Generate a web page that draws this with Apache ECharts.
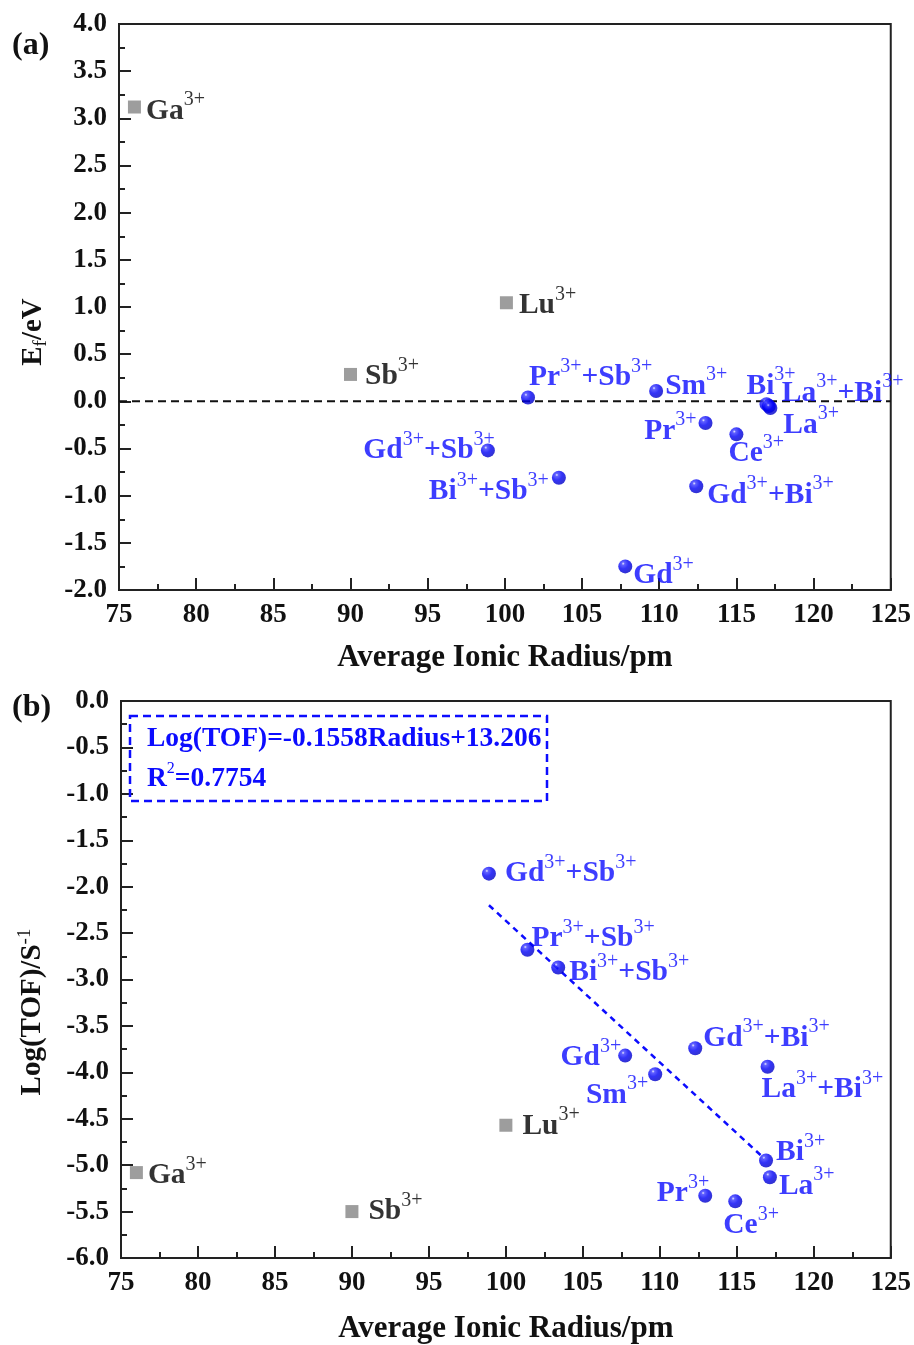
<!DOCTYPE html>
<html>
<head>
<meta charset="utf-8">
<script src="https://cdn.jsdelivr.net/npm/echarts@6/dist/echarts.min.js"></script>
<style>
html,body{margin:0;padding:0;background:#fff;}
#chart{width:914px;height:1345px;}
</style>
</head>
<body>
<div id="chart"></div>
<script>
// ---------- data ----------
const xTicks = [75, 80, 85, 90, 95, 100, 105, 110, 115, 120, 125];
const yTicksA = [-2.0, -1.5, -1.0, -0.5, 0.0, 0.5, 1.0, 1.5, 2.0, 2.5, 3.0, 3.5, 4.0];
const yTicksB = [-6.0, -5.5, -5.0, -4.5, -4.0, -3.5, -3.0, -2.5, -2.0, -1.5, -1.0, -0.5, 0.0];

// panel (a): formation energy
const grayNamesA = ['Ga3+', 'Lu3+', 'Sb3+'];
const grayRadiusA = [76, 100.1, 90];
const grayEfA = [3.12, 1.045, 0.285];

const blueNamesA = ['Pr3++Sb3+', 'Sm3+', 'Bi3+', 'La3++Bi3+', 'La3+', 'Pr3+', 'Ce3+', 'Gd3++Sb3+', 'Bi3++Sb3+', 'Gd3++Bi3+', 'Gd3+'];
const blueRadiusA = [101.5, 109.8, 116.95, 117.1, 117.2, 113.0, 115.0, 98.9, 103.5, 112.4, 107.8];
const blueEfA = [0.04, 0.11, -0.03, -0.05, -0.07, -0.23, -0.35, -0.52, -0.81, -0.90, -1.75];

const zeroLineA = [[75, 0], [125, 0]];

// panel (b): log(TOF)
const grayNamesB = ['Ga3+', 'Sb3+', 'Lu3+'];
const grayRadiusB = [76, 90, 100];
const grayTofB = [-5.08, -5.50, -4.57];

const blueNamesB = ['Gd3++Sb3+', 'Pr3++Sb3+', 'Bi3++Sb3+', 'Gd3+', 'Sm3+', 'Gd3++Bi3+', 'La3++Bi3+', 'Bi3+', 'La3+', 'Pr3+', 'Ce3+'];
const blueRadiusB = [98.9, 101.4, 103.4, 107.75, 109.7, 112.3, 117.0, 116.9, 117.15, 112.95, 114.9];
const blueTofB = [-1.86, -2.68, -2.87, -3.82, -4.02, -3.74, -3.94, -4.95, -5.13, -5.33, -5.39];

const fitLineB = [[98.9, -2.20], [116.8, -4.93]];

// ---------- label placement (style only) ----------
const grayPlaceA = [['right', 5, 1], ['right', 6, 0], ['right', 8, -1]];
const bluePlaceA = [
  ['right', -6, -23], ['right', 2, -8], ['right', -27, -21], ['right', 6, -16], ['right', 6, 14],
  ['left', -2, 5], ['right', -15, 16], ['left', 14, -3], ['left', -3, 11], ['right', 4, 6], ['right', 1, 6]
];
const grayPlaceB = [['right', 5, 0], ['right', 10, -3], ['right', 10, -2]];
const bluePlaceB = [
  ['right', 9, -3], ['right', -3, -14], ['right', 4, 2], ['left', 3, -1], ['left', 0, 18],
  ['right', 1, -13], ['right', -13, 20], ['right', 3, -11], ['right', 2, 6], ['left', 11, -5], ['right', -19, 21]
];

// ---------- styles ----------
const FONT = 'Liberation Serif';
const BLUE = '#0c0cff';
const GRAY = '#858585';
const sphereColor = {
  type: 'radial', x: 0.35, y: 0.3, r: 0.75,
  colorStops: [
    { offset: 0, color: '#e6e6ff' },
    { offset: 0.15, color: '#3a3aff' },
    { offset: 0.5, color: '#0000f5' },
    { offset: 1, color: '#0000c0' }
  ]
};

function toRich(name) {
  return name.split(/(3\+)/).filter(Boolean)
    .map(p => p === '3+' ? '{s|3+}' : '{m|' + p + '}').join('');
}
function richStyles(color) {
  return {
    m: { fontFamily: FONT, fontWeight: 'bold', fontSize: 29.5, color: color, lineHeight: 36, verticalAlign: 'bottom' },
    s: { fontFamily: FONT, fontWeight: 'normal', fontSize: 20, color: color, lineHeight: 20, verticalAlign: 'top' }
  };
}
function pointSeries(gi, names, xs, ys, place, kind) {
  const blue = kind === 'blue';
  const color = blue ? BLUE : '#000';
  return {
    type: 'scatter', xAxisIndex: gi, yAxisIndex: gi,
    symbol: blue ? 'circle' : 'rect',
    symbolSize: blue ? 14 : 13,
    itemStyle: { color: blue ? sphereColor : GRAY },
    z: 5,
    label: {
      show: true, distance: 0, color: color, textBorderWidth: 0,
      formatter: p => toRich(p.name),
      rich: richStyles(color)
    },
    emphasis: { disabled: true },
    data: names.map((n, i) => ({
      name: n, value: [xs[i], ys[i]],
      label: { position: place[i][0], offset: [place[i][1], place[i][2]] }
    }))
  };
}
function xAxisCfg(gi, nameGap) {
  return {
    type: 'value', gridIndex: gi, min: xTicks[0], max: xTicks[xTicks.length - 1], interval: 5,
    name: 'Average Ionic Radius/pm', nameLocation: 'middle', nameGap: nameGap,
    nameTextStyle: { fontFamily: FONT, fontWeight: 'bold', fontSize: 31, color: '#111' },
    axisLine: { show: true, onZero: false, lineStyle: { color: '#222', width: 2 } },
    axisTick: { show: true, inside: true, length: 12, lineStyle: { color: '#222', width: 2 } },
    minorTick: { show: true, splitNumber: 2, length: 6, lineStyle: { color: '#222', width: 2 } },
    axisLabel: { fontFamily: FONT, fontWeight: 'bold', fontSize: 27, color: '#111', margin: 12 },
    splitLine: { show: false }
  };
}
function yAxisCfg(gi, ticks) {
  return {
    type: 'value', gridIndex: gi, min: ticks[0], max: ticks[ticks.length - 1], interval: 0.5,
    axisLine: { show: true, onZero: false, lineStyle: { color: '#222', width: 2 } },
    axisTick: { show: true, inside: true, length: 12, lineStyle: { color: '#222', width: 2 } },
    minorTick: { show: true, splitNumber: 2, length: 6, lineStyle: { color: '#222', width: 2 } },
    axisLabel: { fontFamily: FONT, fontWeight: 'bold', fontSize: 27, color: '#111', margin: 12, formatter: v => v.toFixed(1) },
    splitLine: { show: false }
  };
}
const titleRich = {
  m: { fontFamily: FONT, fontWeight: 'bold', fontSize: 29, fill: '#111', lineHeight: 34, verticalAlign: 'middle' },
  sub: { fontFamily: FONT, fontWeight: 'normal', fontSize: 19, fill: '#111', lineHeight: 34, verticalAlign: 'bottom', padding: [16, 0, 0, 0] },
  sup: { fontFamily: FONT, fontWeight: 'normal', fontSize: 19, fill: '#111', lineHeight: 19, verticalAlign: 'top' }
};

const chart = echarts.init(document.getElementById('chart'), null, { renderer: 'canvas' });
chart.setOption({
  animation: false,
  backgroundColor: '#fff',
  grid: [
    { left: 119, top: 24, width: 774, height: 566, show: true, borderColor: '#222', borderWidth: 2, backgroundColor: 'transparent' },
    { left: 121, top: 701, width: 771, height: 562, show: true, borderColor: '#222', borderWidth: 2, backgroundColor: 'transparent' }
  ],
  xAxis: [xAxisCfg(0, 52), xAxisCfg(1, 55)],
  yAxis: [yAxisCfg(0, yTicksA), yAxisCfg(1, yTicksB)],
  series: [
    {
      type: 'line', xAxisIndex: 0, yAxisIndex: 0, data: zeroLineA, symbol: 'none', z: 3,
      lineStyle: { color: '#111', width: 2, type: [8, 5] }
    },
    pointSeries(0, grayNamesA, grayRadiusA, grayEfA, grayPlaceA, 'gray'),
    pointSeries(0, blueNamesA, blueRadiusA, blueEfA, bluePlaceA, 'blue'),
    {
      type: 'line', xAxisIndex: 1, yAxisIndex: 1, data: fitLineB, symbol: 'none', z: 3,
      lineStyle: { color: BLUE, width: 2.5, type: [6, 5] }
    },
    pointSeries(1, grayNamesB, grayRadiusB, grayTofB, grayPlaceB, 'gray'),
    pointSeries(1, blueNamesB, blueRadiusB, blueTofB, bluePlaceB, 'blue')
  ],
  graphic: [
    { type: 'text', left: 12, top: 30, style: { text: '(a)', font: 'bold 32px "Liberation Serif"', fill: '#111' } },
    { type: 'text', left: 12, top: 692, style: { text: '(b)', font: 'bold 32px "Liberation Serif"', fill: '#111' } },
    {
      type: 'text', x: 34, y: 332, rotation: Math.PI / 2,
      style: { text: '{m|E}{sub|f}{m|/eV}', align: 'center', verticalAlign: 'middle', rich: titleRich }
    },
    {
      type: 'text', x: 33, y: 1012, rotation: Math.PI / 2,
      style: { text: '{m|Log(TOF)/S}{sup|-1}', align: 'center', verticalAlign: 'middle', rich: titleRich }
    },
    {
      type: 'rect', shape: { x: 130, y: 716, width: 417, height: 85 },
      style: { fill: 'none', stroke: BLUE, lineWidth: 2.5, lineDash: [8, 5] }, z: 10
    },
    {
      type: 'text', x: 147, y: 739, z: 10,
      style: { text: 'Log(TOF)=-0.1558Radius+13.206', font: 'bold 27.5px "Liberation Serif"', fill: BLUE, verticalAlign: 'middle' }
    },
    {
      type: 'text', x: 147, y: 777, z: 10,
      style: {
        text: '{m|R}{s|2}{m|=0.7754}', verticalAlign: 'middle',
        rich: {
          m: { font: 'bold 27.5px "Liberation Serif"', fill: BLUE, lineHeight: 32, verticalAlign: 'bottom' },
          s: { font: 'normal 16px "Liberation Serif"', fill: BLUE, lineHeight: 16, verticalAlign: 'top' }
        }
      }
    }
  ]
});
</script>
</body>
</html>
